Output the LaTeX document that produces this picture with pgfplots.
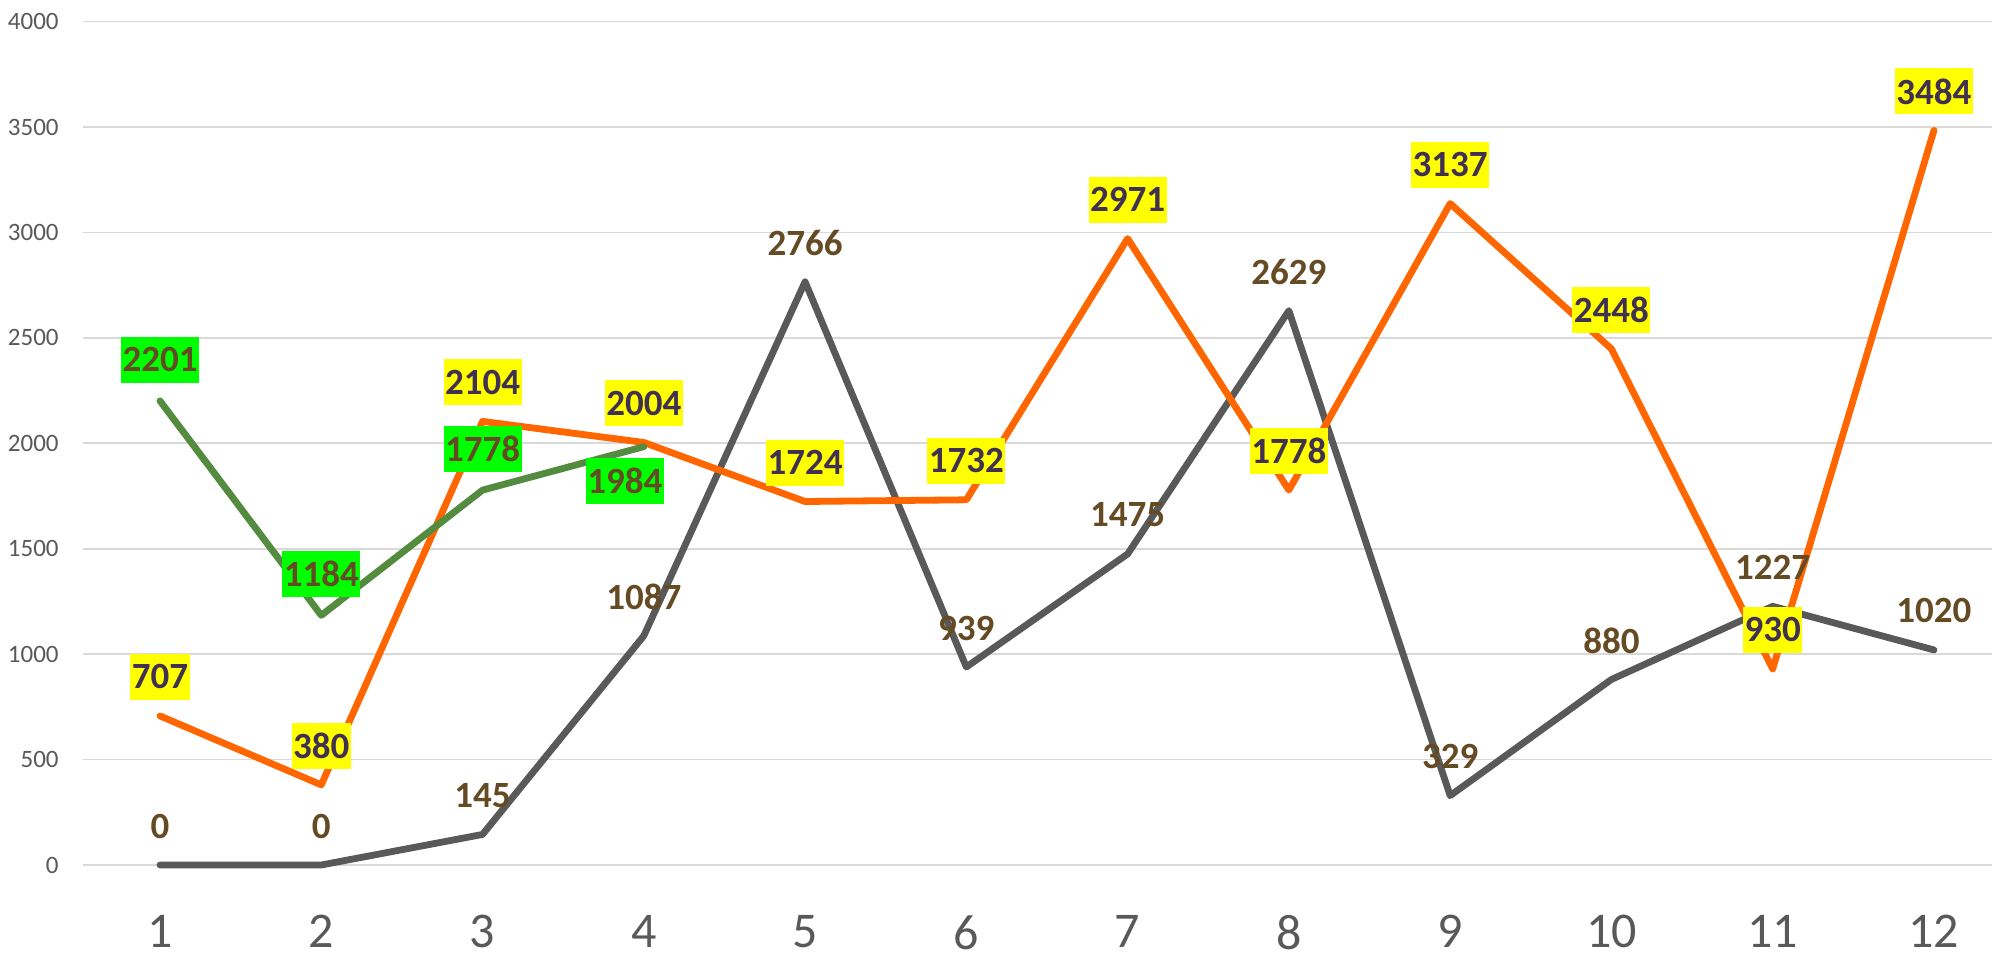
\documentclass[border=0pt]{standalone}
\usepackage{pgfplots}
\pgfplotsset{compat=1.18}
\usepackage{fontspec}
\setmainfont{Carlito}
\definecolor{gridgray}{HTML}{D9D9D9}
\definecolor{tickgray}{HTML}{595959}
\definecolor{linegray}{HTML}{595959}
\definecolor{lineorange}{HTML}{FF6600}
\definecolor{linegreen}{HTML}{538B3F}
\definecolor{labbrown}{HTML}{654B24}
\definecolor{labpurple}{HTML}{403152}
\definecolor{boxyellow}{HTML}{FFFF00}
\definecolor{boxgreen}{HTML}{00FF00}
\begin{document}
\begin{tikzpicture}
\useasboundingbox (-41.3pt,-45pt) rectangle (954.7pt,432.5pt);
\begin{axis}[
  scale only axis,
  width=954.7pt, height=421.7pt,
  xmin=0.52, xmax=12.36,
  ymin=0, ymax=4000,
  xtick={1,2,...,12},
  ytick={0,500,...,4000},
  ymajorgrids,
  grid style={color=gridgray, line width=0.85pt},
  axis line style={draw=none},
  major tick length=0pt,
  tick style={draw=none},
  clip=false,
  /pgf/number format/assume math mode=true,
  /pgf/number format/1000 sep={},
  yticklabel style={font=\fontsize{12.5}{14}\selectfont, text=tickgray, anchor=east, inner sep=0pt, xshift=-11.8pt},
  xticklabel style={font=\fontsize{25}{28}\selectfont, text=tickgray, anchor=north, inner sep=0pt, yshift=-25pt},
  point meta=y,
]
% lines
\addplot[linegray, line width=3.4pt, line join=round, line cap=round, mark=none]
  coordinates {(1,0) (2,0) (3,145) (4,1087) (5,2766) (6,939) (7,1475) (8,2629) (9,329) (10,880) (11,1227) (12,1020)};
\addplot[lineorange, line width=3.4pt, line join=round, line cap=round, mark=none]
  coordinates {(1,707) (2,380) (3,2104) (4,2004) (5,1724) (6,1732) (7,2971) (8,1778) (9,3137) (10,2448) (11,930) (12,3484)};
\addplot[linegreen, line width=3.4pt, line join=round, line cap=round, mark=none]
  coordinates {(1,2201) (2,1184) (3,1778) (4,1984)};
% labels
\addplot[draw=none, mark=none, nodes near coords,
  every node near coord/.append style={anchor=center, yshift=19.5pt, inner xsep=0.75pt, inner ysep=0pt, minimum height=23pt, text=labbrown, font=\fontsize{18.5}{20}\selectfont\bfseries}]
  coordinates {(1,0) (2,0) (3,145) (4,1087) (5,2766) (6,939) (7,1475) (8,2629) (9,329) (10,880) (11,1227) (12,1020)};
\addplot[draw=none, mark=none, nodes near coords,
  every node near coord/.append style={anchor=center, yshift=19.5pt, inner xsep=0.75pt, inner ysep=0pt, minimum height=23pt, fill=boxyellow, text=labpurple, font=\fontsize{18.5}{20}\selectfont\bfseries}]
  coordinates {(1,707) (2,380) (3,2104) (4,2004) (5,1724) (6,1732) (7,2971) (8,1778) (9,3137) (10,2448) (11,930) (12,3484)};
\addplot[draw=none, mark=none, nodes near coords,
  every node near coord/.append style={anchor=center, yshift=20.5pt, inner xsep=0.75pt, inner ysep=0pt, minimum height=23pt, fill=boxgreen, text=labbrown, font=\fontsize{18.5}{20}\selectfont\bfseries}]
  coordinates {(1,2201) (2,1184) (3,1778)};
\addplot[draw=none, mark=none, nodes near coords,
  every node near coord/.append style={anchor=center, yshift=-17pt, xshift=-9.5pt, inner xsep=0.75pt, inner ysep=0pt, minimum height=23pt, fill=boxgreen, text=labbrown, font=\fontsize{18.5}{20}\selectfont\bfseries}]
  coordinates {(4,1984)};
\end{axis}
\end{tikzpicture}
\end{document}
